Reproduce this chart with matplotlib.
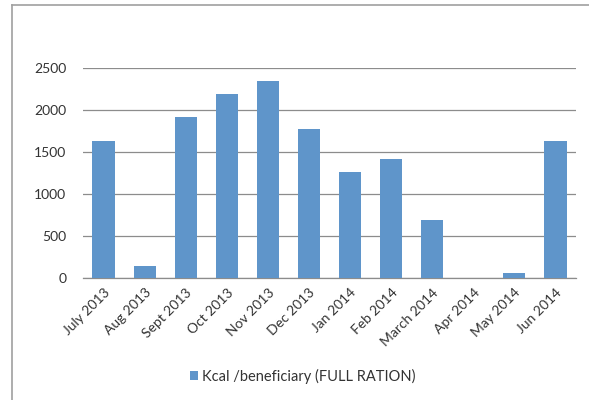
import matplotlib
matplotlib.use("Agg")
import matplotlib.pyplot as plt
from matplotlib.lines import Line2D

# data
months = ['July 2013', 'Aug 2013', 'Sept 2013', 'Oct 2013', 'Nov 2013', 'Dec 2013',
          'Jan 2014', 'Feb 2014', 'March 2014', 'Apr 2014', 'May 2014', 'Jun 2014']
kcal = [1636, 140, 1920, 2190, 2350, 1778, 1265, 1414, 690, 0, 60, 1636]
series_name = 'Kcal /beneficiary (FULL RATION)'

plt.rcParams['font.family'] = ['Lato', 'DejaVu Sans']

fig = plt.figure(figsize=(5.89, 4.0), dpi=100)
W, H = 589, 400
ax = fig.add_axes([83 / W, 1 - 278 / H, (576 - 83) / W, (278 - 68) / H])

bar_color = '#5F95CA'
x = range(len(months))
ax.bar(x, kcal, width=0.54, color=bar_color, label=series_name, zorder=3)

ax.set_xlim(-0.5, len(months) - 0.5)
ax.set_ylim(0, 2500)
ax.set_yticks([0, 500, 1000, 1500, 2000, 2500])
ax.tick_params(axis='y', length=0, labelsize=10, pad=12, colors='#333333')
ax.tick_params(axis='x', length=0, labelsize=10, pad=6, colors='#333333')
ax.set_xticks(list(x))
ax.set_xticklabels(months, rotation=45, ha='right', rotation_mode='anchor')

ax.grid(axis='y', color='#8c8c8c', linewidth=0.9, zorder=0)
for s in ['top', 'right', 'left']:
    ax.spines[s].set_visible(False)
ax.spines['bottom'].set_color('#8c8c8c')
ax.spines['bottom'].set_linewidth(0.9)

leg = fig.legend(loc='center', bbox_to_anchor=(303 / W, 1 - 376 / H), frameon=False,
                 fontsize=10.5, handlelength=0.55, handleheight=0.55, handletextpad=0.3)
for t in leg.get_texts():
    t.set_color('#333333')

# outer chart border (left and top visible)
fig.add_artist(Line2D([11.5 / W, 11.5 / W], [0, 1 - 4.5 / H], color='#a0a0a0', lw=1.2))
fig.add_artist(Line2D([11.5 / W, 1], [1 - 4.5 / H, 1 - 4.5 / H], color='#a0a0a0', lw=1.2))

fig.savefig('out.png', dpi=100)
